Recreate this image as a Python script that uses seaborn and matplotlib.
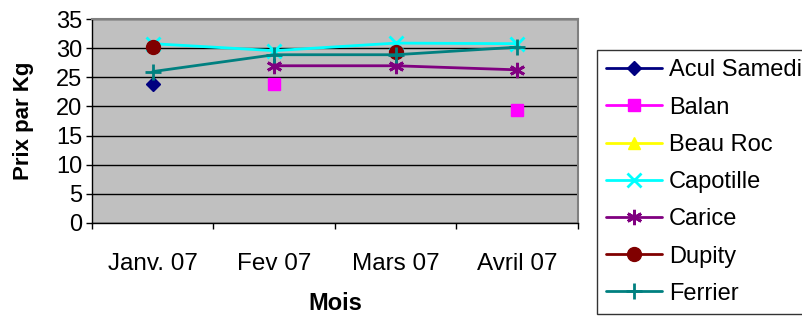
import numpy as np
import pandas as pd
import matplotlib
matplotlib.use("Agg")
import matplotlib.pyplot as plt
from matplotlib.lines import Line2D
import seaborn as sns

months = ["Janv. 07", "Fev 07", "Mars 07", "Avril 07"]
acul_samedi = [23.9, np.nan, np.nan, np.nan]
balan = [np.nan, 23.9, np.nan, 19.4]
beau_roc = [np.nan, np.nan, np.nan, np.nan]
capotille = [30.8, 29.6, 30.9, 30.8]
carice = [np.nan, 27.0, 27.0, 26.3]
dupity = [30.3, np.nan, 29.4, np.nan]
ferrier = [26.0, 28.9, 28.9, 30.2]

series_names = ["Acul Samedi", "Balan", "Beau Roc", "Capotille", "Carice", "Dupity", "Ferrier"]
series_values = [acul_samedi, balan, beau_roc, capotille, carice, dupity, ferrier]
colors = ["#000080", "#FF00FF", "#FFFF00", "#00FFFF", "#800080", "#800000", "#008080"]
asterisk = (6, 2, 0)
markers = ["D", "s", "^", "x", asterisk, "o", "+"]
msizes = [7, 9, 9, 10, 11, 10, 12]
mew = [1, 1, 1, 2, 2, 1, 2]

sns.set_theme(style="white")
plt.rcParams["font.family"] = ["Liberation Sans", "DejaVu Sans"]
plt.rcParams["text.color"] = "black"
plt.rcParams["axes.labelcolor"] = "black"
plt.rcParams["xtick.color"] = "black"
plt.rcParams["ytick.color"] = "black"

fig = plt.figure(figsize=(8.02, 3.16), dpi=100)
ax = fig.add_axes([0.1147, 0.2953, 0.7207 - 0.1147, 0.939 - 0.2953])
ax.set_facecolor("#C0C0C0")

xs = np.arange(len(months))
for name, vals, c, m, ms, mw in zip(series_names, series_values, colors, markers, msizes, mew):
    vals = np.asarray(vals, dtype=float)
    run = []
    runs = []
    for i, v in enumerate(vals):
        if np.isnan(v):
            if run:
                runs.append(run)
            run = []
        else:
            run.append(i)
    if run:
        runs.append(run)
    for r in runs:
        df = pd.DataFrame({"x": xs[r], "y": vals[r]})
        sns.lineplot(data=df, x="x", y="y", ax=ax, color=c, linewidth=2,
                     marker=m, markersize=ms, markeredgewidth=mw,
                     markeredgecolor=c, markerfacecolor=c, zorder=3)

ax.set_xlim(-0.5, 3.5)
ax.set_ylim(0, 35)
ax.set_yticks(np.arange(0, 36, 5))
ax.yaxis.grid(True, color="black", linewidth=1)
ax.xaxis.grid(False)
ax.set_axisbelow(True)

ax.set_xticks(np.arange(-0.5, 4, 1))
ax.set_xticklabels([])
ax.set_xticks(xs, minor=True)
ax.set_xticklabels(months, minor=True)
ax.tick_params(axis="x", which="major", direction="out", length=4, width=1, color="black", bottom=True)
ax.tick_params(axis="x", which="minor", length=0, labelsize=17.5, pad=21.5, bottom=True)
ax.tick_params(axis="y", direction="out", length=4, width=1, color="black", labelsize=17, left=True, pad=3)

for s in ["top", "right"]:
    ax.spines[s].set_color("#808080")
    ax.spines[s].set_linewidth(1.5)
for s in ["left", "bottom"]:
    ax.spines[s].set_color("black")
    ax.spines[s].set_linewidth(1)

ax.set_xlabel("Mois", fontsize=17, fontweight="bold", labelpad=12.5)
ax.set_ylabel("Prix par Kg", fontsize=16, fontweight="bold", labelpad=16)

handles = [Line2D([0], [0], color=c, linewidth=2, marker=m, markersize=ms,
                  markeredgewidth=mw, markeredgecolor=c, markerfacecolor=c)
           for c, m, ms, mw in zip(colors, markers, msizes, mew)]
leg = fig.legend(handles, series_names, loc="upper left", bbox_to_anchor=(0.744, 0.842),
                 fontsize=17, frameon=True, fancybox=False, handlelength=2.35,
                 handletextpad=0.3, labelspacing=0.645, borderpad=0.4,
                 borderaxespad=0)
leg.get_frame().set_edgecolor("black")
leg.get_frame().set_linewidth(1)

fig.savefig("out.png", dpi=100)
